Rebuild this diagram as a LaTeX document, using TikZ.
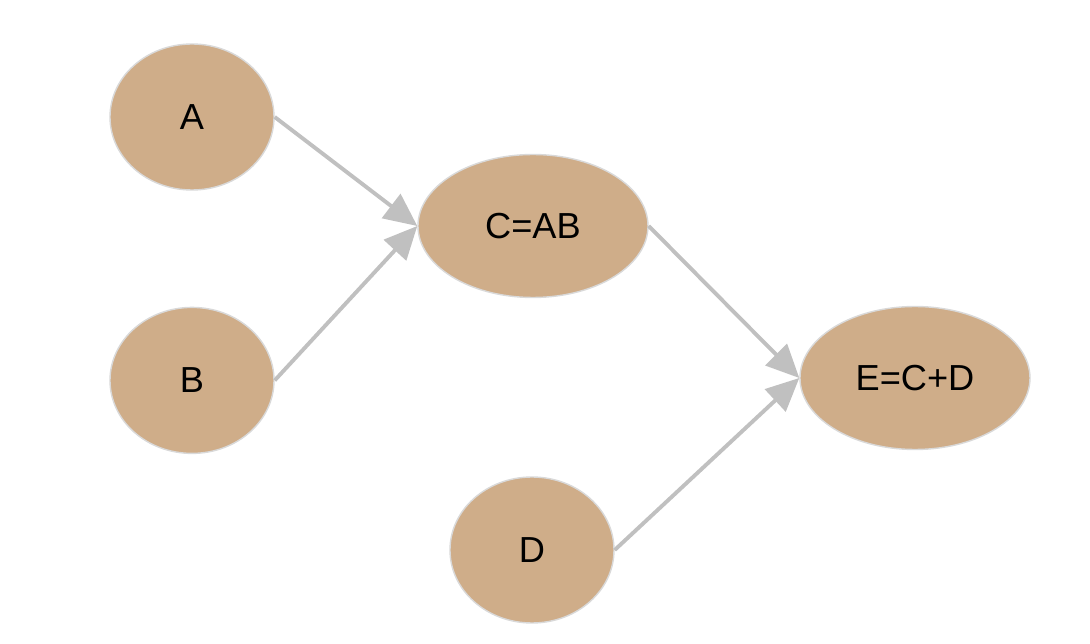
\documentclass[tikz,border=0pt]{standalone}
\usepackage{fontspec}
\setmainfont{Liberation Sans}
\usetikzlibrary{shapes.geometric, arrows.meta, positioning}
\definecolor{nodetan}{RGB}{207,173,137}
\definecolor{edgegray}{RGB}{192,192,192}
\tikzstyle{ell} = [ellipse, fill = nodetan, draw = gray!30, line width = 0.4pt, inner sep = 0pt, minimum width = 1.64cm, minimum height = 1.46cm, text centered, font = \fontsize{10.3}{12}\selectfont]
\tikzstyle{ellw} = [ell, minimum width = 2.3cm, minimum height = 1.43cm]
\tikzstyle{arrow} = [line width = 1.1pt, -{Triangle[length = 0.33cm, width = 0.3cm]}, draw = edgegray]
\begin{document}
\begin{tikzpicture}
        \useasboundingbox[fill = white] (0, 0) rectangle (10.9, -6.44);
    	\node(a)[ell] at (1.92, -1.17) {A};
        \node(b)[ell, below = 1.16cm of a] {B};
        \node(c)[ellw] at (5.33, -2.26) {C=AB};
        \node(e)[ellw] at (9.15, -3.78) {E=C+D};
        \node(d)[ell] at (5.32, -5.50) {D};
        \draw[arrow] (a.east) -- (c.west);
        \draw[arrow] (b.east) -- (c.west);
        \draw[arrow] (c.east) -- (e.west);
        \draw[arrow] (d.east) -- (e.west);
    \end{tikzpicture}
\end{document}
